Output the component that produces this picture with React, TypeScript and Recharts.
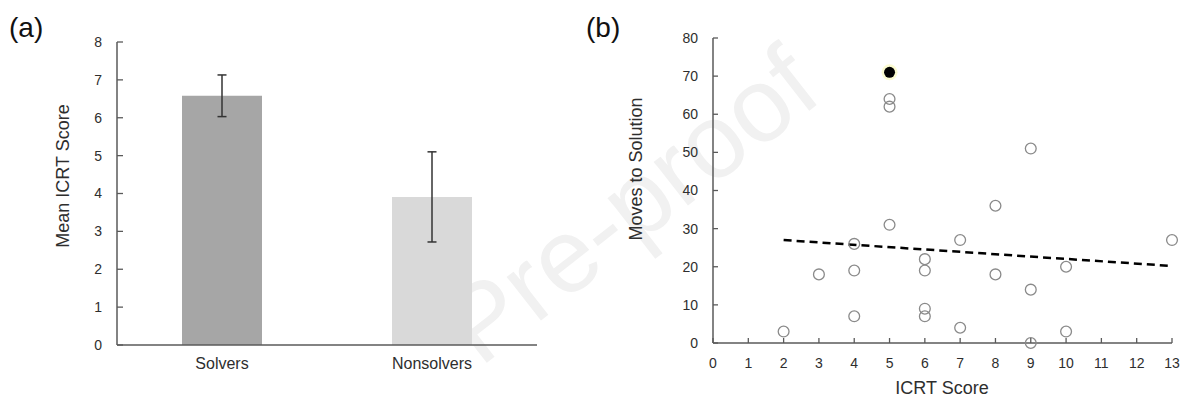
import React from 'react';
import { BarChart, Bar, XAxis, YAxis, ErrorBar, Cell, ScatterChart, Scatter } from 'recharts';

// ---- Panel (a) data ----
const groups = ['Solvers', 'Nonsolvers'];
const meanScores = [6.58, 3.91];
const scoreErrors = [0.55, 1.19];
const barColors = ['#a6a6a6', '#d9d9d9'];
const meanTicks = [0, 1, 2, 3, 4, 5, 6, 7, 8];

// ---- Panel (b) data ----
const icrtScores = [2, 3, 4, 4, 4, 5, 5, 5, 6, 6, 6, 6, 7, 7, 8, 8, 9, 9, 9, 10, 10, 13];
const movesToSolution = [3, 18, 26, 19, 7, 64, 62, 31, 22, 19, 9, 7, 27, 4, 36, 18, 51, 14, 0, 20, 3, 27];
const highlightScores = [5];
const highlightMoves = [71];
const trendScores = [2, 13];
const trendMoves = [27, 20.2];
const icrtTicks = [0, 1, 2, 3, 4, 5, 6, 7, 8, 9, 10, 11, 12, 13];
const movesTicks = [0, 10, 20, 30, 40, 50, 60, 70, 80];

const barData = groups.map((g, i) => ({ name: g, mean: meanScores[i], err: scoreErrors[i] }));
const scatterData = icrtScores.map((x, i) => ({ x, y: movesToSolution[i] }));
const highlightData = highlightScores.map((x, i) => ({ x, y: highlightMoves[i] }));
const trendData = trendScores.map((x, i) => ({ x, y: trendMoves[i] }));

const AXIS = '#5a5a5a';
const TXT = '#2e2e2e';
const FONT = '"Liberation Sans", Arial, Helvetica, sans-serif';

const YTick = (props: any) => {
  const { x, y, payload } = props;
  return (
    <g>
      <line x1={x + 15} x2={x + 21} y1={y} y2={y} stroke={AXIS} strokeWidth={1.3} />
      <text x={x} y={y} dy="0.35em" textAnchor="end" fontSize={14} fill={TXT} fontFamily={FONT}>
        {payload.value}
      </text>
    </g>
  );
};

const YTickB = (props: any) => {
  const { x, y, payload } = props;
  return (
    <g>
      <line x1={x + 15} x2={x + 20} y1={y} y2={y} stroke={AXIS} strokeWidth={1.3} />
      <text x={x} y={y} dy="0.35em" textAnchor="end" fontSize={14} fill={TXT} fontFamily={FONT}>
        {payload.value}
      </text>
    </g>
  );
};

const XTickB = (props: any) => {
  const { x, y, payload } = props;
  return (
    <g>
      <line x1={x} x2={x} y1={y - 15} y2={y - 20} stroke={AXIS} strokeWidth={1.3} />
      <text x={x} y={y} dy="0.71em" textAnchor="middle" fontSize={14} fill={TXT} fontFamily={FONT}>
        {payload.value}
      </text>
    </g>
  );
};

const CatTick = (props: any) => {
  const { x, y, payload } = props;
  return (
    <text x={x} y={y} dy="0.71em" textAnchor="middle" fontSize={16} fill={TXT} fontFamily={FONT}>
      {payload.value}
    </text>
  );
};

const HollowDot = (props: any) => {
  const { cx, cy } = props;
  return <circle cx={cx} cy={cy} r={5.4} fill="none" stroke="#8a8a8a" strokeWidth={1.3} />;
};

const FilledDot = (props: any) => {
  const { cx, cy } = props;
  return (
    <g>
      <circle cx={cx} cy={cy} r={8} fill="#fbfbd0" />
      <circle cx={cx} cy={cy} r={5.5} fill="#000" />
    </g>
  );
};

const NoDot = () => <g />;

export default function App() {
  return (
    <div
      style={{
        position: 'absolute',
        left: 0,
        top: 0,
        width: 1183,
        height: 400,
        background: '#fff',
        overflow: 'hidden',
        fontFamily: FONT,
      }}
    >
      <svg width={1183} height={400} style={{ position: 'absolute', left: 0, top: 0 }}>
        <text
          x={480}
          y={368}
          textAnchor="start"
          fontSize={105}
          fill="#f1f1f1"
          fontFamily={FONT}
          transform="rotate(-38 480 368)"
        >
          Pre-proof
        </text>
      </svg>

      <div style={{ position: 'absolute', left: 0, top: 0 }}>
        <BarChart width={560} height={400} data={barData} margin={{ top: 42, right: 23, bottom: 25, left: 57 }} barSize={80}>
          <XAxis
            dataKey="name"
            height={30}
            tickSize={0}
            tickMargin={13}
            tickLine={false}
            axisLine={{ stroke: AXIS, strokeWidth: 1.5 }}
            tick={<CatTick />}
          />
          <YAxis
            type="number"
            domain={[0, 8]}
            ticks={meanTicks}
            width={60}
            tickSize={0}
            tickMargin={15}
            tickLine={false}
            axisLine={{ stroke: AXIS, strokeWidth: 1.5 }}
            tick={<YTick />}
          />
          <Bar dataKey="mean" isAnimationActive={false}>
            {barData.map((d, i) => (
              <Cell key={d.name} fill={barColors[i]} />
            ))}
            <ErrorBar dataKey="err" width={4.5} stroke="#333" strokeWidth={1.5} direction="y" />
          </Bar>
        </BarChart>
      </div>

      <div style={{ position: 'absolute', left: 560, top: 0 }}>
        <ScatterChart width={623} height={400} margin={{ top: 38, right: 11, bottom: 27, left: 93 }}>
          <XAxis
            type="number"
            dataKey="x"
            domain={[0, 13]}
            ticks={icrtTicks}
            interval={0}
            height={30}
            tickSize={0}
            tickMargin={15}
            tickLine={false}
            axisLine={{ stroke: AXIS, strokeWidth: 1.5 }}
            tick={<XTickB />}
          />
          <YAxis
            type="number"
            dataKey="y"
            domain={[0, 80]}
            ticks={movesTicks}
            interval={0}
            width={60}
            tickSize={0}
            tickMargin={15}
            tickLine={false}
            axisLine={{ stroke: AXIS, strokeWidth: 1.5 }}
            tick={<YTickB />}
          />
          <Scatter
            data={trendData}
            line={{ stroke: '#000', strokeWidth: 2.5, strokeDasharray: '8 5' }}
            lineType="joint"
            shape={<NoDot />}
            isAnimationActive={false}
          />
          <Scatter data={scatterData} shape={<HollowDot />} isAnimationActive={false} />
          <Scatter data={highlightData} shape={<FilledDot />} isAnimationActive={false} />
        </ScatterChart>
      </div>

      <svg width={1183} height={400} style={{ position: 'absolute', left: 0, top: 0, pointerEvents: 'none' }}>
        <text x={9} y={37} fontSize={28} fill="#111" fontFamily={FONT}>(a)</text>
        <text x={586} y={37} fontSize={28} fill="#111" fontFamily={FONT}>(b)</text>
        <text
          x={0}
          y={0}
          dy="0.35em"
          textAnchor="middle"
          fontSize={18}
          fill={TXT}
          fontFamily={FONT}
          transform="translate(63 176) rotate(-90)"
        >
          Mean ICRT Score
        </text>
        <text
          x={0}
          y={0}
          dy="0.35em"
          textAnchor="middle"
          fontSize={18}
          fill={TXT}
          fontFamily={FONT}
          transform="translate(636 169) rotate(-90)"
        >
          Moves to Solution
        </text>
        <text x={942} y={394} textAnchor="middle" fontSize={18} fill={TXT} fontFamily={FONT}>
          ICRT Score
        </text>
      </svg>
    </div>
  );
}
